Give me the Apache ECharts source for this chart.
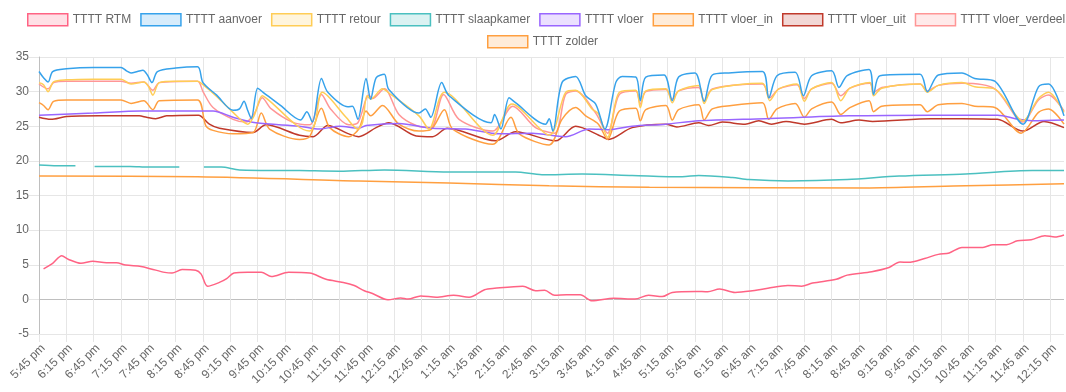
<!DOCTYPE html>
<html>
<head>
<meta charset="utf-8">
<script src="https://cdn.jsdelivr.net/npm/echarts@6/dist/echarts.min.js"></script>
<style>
html,body{margin:0;padding:0;background:#fff;}
#chart{width:1066px;height:392px;}
</style>
</head>
<body>
<div id="chart"></div>
<script>
// x values: minutes since 5:45 pm
const startMinuteOfDay = 17 * 60 + 45;
const seriesNames = ['TTTT RTM','TTTT aanvoer','TTTT retour','TTTT slaapkamer','TTTT vloer','TTTT vloer_in','TTTT vloer_uit','TTTT vloer_verdeel','TTTT zolder'];
const yTicks = [-5, 0, 5, 10, 15, 20, 25, 30, 35];

const rtm = [[5,4.4],[15,5.2],[25,6.3],[32,5.8],[46,5.2],[59,5.5],[74,5.3],[85,5.3],[95,4.95],[112,4.75],[123,4.4],[138,3.9],[146,3.8],[157,4.3],[172,4.2],[178,3.65],[185,1.9],[198,2.45],[206,3.0],[214,3.8],[229,3.9],[244,3.9],[255,3.3],[274,3.9],[297,3.8],[315,2.9],[334,2.45],[346,2.0],[357,1.25],[366,0.85],[383,-0.05],[397,0.2],[405,0.05],[419,0.5],[436,0.3],[455,0.6],[472,0.3],[489,1.4],[500,1.6],[531,1.9],[545,1.25],[555,1.3],[566,0.6],[579,0.65],[594,0.65],[607,-0.2],[631,0.15],[654,0.05],[669,0.6],[684,0.4],[695,1.0],[721,1.15],[734,1.1],[747,1.5],[764,1.0],[781,1.2],[800,1.6],[822,2.0],[837,1.9],[849,2.35],[875,2.9],[887,3.5],[914,4.0],[933,4.6],[945,5.4],[954,5.35],[972,5.9],[987,6.5],[999,6.7],[1013,7.5],[1036,7.5],[1047,7.9],[1062,7.9],[1074,8.45],[1089,8.6],[1104,9.2],[1115,9.0],[1125,9.3]];

const aanvoer = [[0,32.9],[5,32.0],[10,31.4],[15,32.9],[30,33.3],[60,33.5],[90,33.5],[96,33.0],[101,32.7],[108,32.9],[114,33.1],[119,32.4],[124,31.3],[130,32.9],[150,33.4],[174,33.6],[180,31.3],[195,29.5],[213,27.3],[220,27.5],[225,28.6],[229,27.3],[233,26.1],[240,30.5],[246,29.9],[265,28.0],[287,25.9],[294,27.1],[300,25.6],[310,31.9],[317,29.9],[339,27.8],[344,27.9],[350,26.0],[359,31.9],[364,28.9],[370,32.0],[379,32.5],[384,30.3],[417,26.9],[424,27.5],[430,26.3],[442,31.3],[450,29.4],[496,25.5],[500,26.7],[507,24.6],[516,29.1],[523,28.4],[556,25.3],[560,26.1],[564,24.3],[574,31.3],[589,32.2],[600,29.4],[611,28.2],[621,24.6],[633,31.3],[640,32.2],[655,32.1],[660,28.7],[666,32.1],[686,32.4],[695,28.7],[702,32.1],[720,32.7],[730,28.6],[739,32.4],[757,32.7],[794,32.9],[801,29.1],[810,32.3],[830,32.8],[839,29.4],[848,32.3],[870,33.0],[878,30.6],[887,32.3],[911,33.2],[916,29.6],[923,32.3],[967,32.5],[975,30.0],[987,32.4],[1013,32.7],[1027,31.9],[1049,31.5],[1080,25.3],[1097,30.7],[1108,31.1],[1125,26.5]];

const retour = [[0,31.3],[5,31.0],[10,30.0],[16,31.4],[30,31.7],[60,31.8],[90,31.8],[101,31.1],[115,31.4],[120,30.8],[125,29.5],[132,31.3],[150,31.5],[174,31.5],[180,31.0],[195,29.3],[213,27.0],[229,25.3],[236,26.5],[245,29.4],[250,29.0],[297,24.3],[303,25.5],[311,29.9],[337,26.3],[350,24.6],[355,25.5],[360,29.4],[364,28.9],[377,30.4],[384,29.8],[417,26.5],[428,24.6],[445,29.9],[498,23.7],[519,28.2],[560,23.7],[578,29.9],[589,30.2],[607,27.5],[614,26.8],[624,23.4],[637,29.9],[655,30.2],[660,27.7],[666,30.1],[688,30.4],[695,28.4],[702,30.1],[724,30.9],[730,28.3],[739,30.3],[794,31.2],[802,28.7],[812,30.4],[832,31.1],[840,28.6],[848,30.4],[870,31.3],[880,28.7],[890,30.5],[912,31.3],[916,29.4],[925,30.5],[967,31.1],[975,29.9],[987,30.9],[1013,31.3],[1027,30.7],[1049,30.4],[1080,25.8],[1097,29.0],[1108,29.9],[1125,27.0]];

const slaapkamer = [[0,19.4],[20,19.3],[40,19.3],[50,null],[61,19.2],[100,19.2],[120,19.1],[154,19.1],[167,null],[181,19.1],[200,19.1],[220,18.7],[286,18.6],[330,18.5],[379,18.7],[450,18.4],[523,18.4],[552,18.0],[596,18.1],[651,17.9],[706,17.7],[724,17.9],[761,17.6],[779,17.3],[822,17.1],[887,17.3],[944,17.8],[1017,18.1],[1090,18.6],[1125,18.6]];

const vloer = [[0,26.6],[60,26.9],[112,27.2],[175,27.2],[191,27.2],[213,26.3],[238,25.5],[286,25.0],[308,24.6],[330,25.0],[351,24.7],[359,25.1],[395,25.4],[432,24.7],[468,24.6],[505,23.9],[541,24.0],[578,23.5],[604,24.6],[625,24.5],[651,25.0],[688,25.3],[724,25.8],[797,26.1],[889,26.5],[980,26.6],[1052,26.6],[1075,26.0],[1090,25.8],[1125,25.9]];

const vloerIn = [[0,28.4],[5,28.0],[10,27.4],[16,28.6],[30,28.8],[90,28.8],[101,28.3],[115,28.7],[125,27.4],[132,28.7],[174,28.8],[183,25.1],[191,24.4],[213,23.9],[235,24.1],[244,26.9],[253,24.6],[286,23.1],[297,23.5],[310,27.6],[319,24.8],[340,23.5],[351,24.6],[359,27.2],[364,26.5],[377,28.0],[395,25.3],[417,24.3],[430,24.5],[445,27.4],[454,24.6],[498,22.4],[518,26.3],[527,23.9],[560,22.3],[574,26.0],[589,27.7],[600,26.5],[614,25.3],[624,23.1],[637,27.2],[655,27.6],[660,25.8],[666,27.4],[688,28.0],[695,25.9],[702,27.4],[724,28.1],[730,25.9],[739,27.5],[760,28.0],[794,28.4],[801,26.0],[810,27.5],[830,28.3],[840,26.3],[848,27.5],[870,28.5],[880,26.7],[890,27.7],[911,28.7],[916,27.1],[925,27.9],[967,28.1],[975,27.1],[987,28.1],[1013,28.3],[1027,27.9],[1049,27.7],[1078,24.0],[1097,27.0],[1108,27.5],[1125,25.3]];

const vloerUit = [[0,26.3],[13,26.0],[30,26.4],[66,26.5],[110,26.5],[118,26.3],[128,26.1],[140,26.5],[175,26.6],[187,25.3],[198,24.7],[235,24.1],[249,25.2],[286,23.7],[301,23.5],[317,25.1],[340,23.9],[351,23.5],[370,24.8],[384,25.5],[414,23.6],[432,23.5],[448,24.7],[501,22.9],[523,24.2],[567,22.9],[589,25.0],[618,23.5],[625,23.1],[651,24.8],[688,25.3],[700,24.9],[724,25.5],[735,25.1],[750,25.6],[775,25.3],[790,25.8],[804,25.3],[820,25.7],[840,25.3],[870,26.0],[880,25.5],[900,25.9],[915,25.7],[979,26.1],[1013,26.1],[1052,26.0],[1080,24.3],[1103,25.7],[1125,24.8]];

const vloerVerdeel = [[0,31.1],[10,30.4],[16,31.3],[30,31.5],[90,31.5],[101,31.2],[115,31.4],[125,30.2],[132,31.3],[174,31.5],[180,30.0],[191,27.7],[213,26.0],[227,25.6],[237,27.0],[245,29.1],[255,27.5],[278,25.6],[297,25.2],[310,29.6],[320,27.5],[340,25.2],[350,25.5],[362,29.5],[366,29.0],[379,30.4],[395,26.7],[414,25.1],[430,24.8],[444,29.6],[461,26.0],[498,24.3],[520,27.9],[545,24.8],[566,24.0],[578,29.6],[589,30.1],[611,26.9],[624,24.0],[637,29.6],[655,30.1],[660,28.2],[666,30.0],[688,30.3],[695,28.9],[702,30.1],[724,30.6],[730,28.6],[739,30.4],[794,31.1],[802,29.1],[812,30.4],[832,31.0],[840,29.0],[848,30.4],[870,31.2],[880,29.4],[890,30.5],[912,31.2],[916,29.9],[925,30.6],[967,31.1],[975,30.1],[987,30.9],[1013,31.2],[1049,30.4],[1080,25.6],[1097,28.8],[1108,29.5],[1125,27.2]];

const zolder = [[0,17.8],[174,17.7],[351,17.1],[450,16.8],[560,16.4],[670,16.2],[912,16.1],[1017,16.4],[1125,16.7]];

const seriesData = [rtm, aanvoer, retour, slaapkamer, vloer, vloerIn, vloerUit, vloerVerdeel, zolder];
const lineColors = ['rgb(255,99,132)','rgb(54,162,235)','rgb(255,205,86)','rgb(75,192,192)','rgb(153,102,255)','rgb(255,159,64)','rgb(192,57,43)','rgb(255,150,150)','rgb(255,159,64)'];
const fillColors = ['rgba(255,99,132,0.2)','rgba(54,162,235,0.2)','rgba(255,205,86,0.2)','rgba(75,192,192,0.2)','rgba(153,102,255,0.2)','rgba(255,159,64,0.2)','rgba(192,57,43,0.2)','rgba(255,150,150,0.2)','rgba(255,159,64,0.2)'];

const X_MAX = 1125;
function fmtTime(t) {
  const m = (startMinuteOfDay + t) % 1440;
  const h = Math.floor(m / 60);
  const mm = m % 60;
  const ap = h >= 12 ? 'pm' : 'am';
  const h12 = (h % 12) === 0 ? 12 : h % 12;
  return h12 + ':' + (mm < 10 ? '0' + mm : mm) + ' ' + ap;
}

const xSplitColors = [];
for (let i = 0; i <= 38; i++) xSplitColors.push(i === 0 ? '#bfbfbf' : (i === 38 ? 'rgba(0,0,0,0)' : '#e6e6e6'));
const ySplitColors = yTicks.map(v => v === 0 ? '#bfbfbf' : '#e6e6e6');

const legendItem = (i) => ({
  name: seriesNames[i],
  itemStyle: { color: fillColors[i], borderColor: lineColors[i], borderWidth: 1.5 }
});

const series = [];
for (let i = seriesData.length - 1; i >= 0; i--) {
  series.push({
    name: seriesNames[i],
    type: 'line',
    data: seriesData[i].map(p => [p[0], p[1] === null ? '-' : p[1]]),
    smooth: 0.3,
    showSymbol: false,
    connectNulls: false,
    color: lineColors[i],
    lineStyle: { color: lineColors[i], width: 1.5 },
    itemStyle: { color: lineColors[i] },
    emphasis: { disabled: true },
    z: 2
  });
}

const textStyle = { color: '#666', fontSize: 12, fontFamily: 'Liberation Sans, Arial, Helvetica, sans-serif' };

const chart = echarts.init(document.getElementById('chart'), null, { renderer: 'canvas' });
chart.setOption({
  animation: false,
  backgroundColor: '#fff',
  textStyle: textStyle,
  legend: [
    {
      data: [0,1,2,3,4,5,6,7].map(legendItem),
      left: 27, top: 13, padding: 0,
      itemWidth: 40, itemHeight: 12, itemGap: 9,
      icon: 'rect',
      textStyle: textStyle,
      selectedMode: false
    },
    {
      data: [legendItem(8)],
      left: 487, top: 35, padding: 0,
      itemWidth: 40, itemHeight: 12,
      icon: 'rect',
      textStyle: textStyle,
      selectedMode: false
    }
  ],
  grid: { left: 39, right: 2, top: 57, bottom: 58, containLabel: false },
  xAxis: {
    type: 'value',
    min: 0, max: X_MAX, interval: 30,
    axisLine: { show: false, onZero: false },
    axisTick: { show: true, length: 8, lineStyle: { color: '#e6e6e6' } },
    splitLine: { show: true, lineStyle: { color: xSplitColors, width: 1 } },
    axisLabel: {
      rotate: 45, margin: 8, color: '#666', fontSize: 12,
      fontFamily: textStyle.fontFamily,
      verticalAlign: 'top',
      showMaxLabel: false,
      formatter: (v) => (v % 30 === 0 && v < X_MAX) ? fmtTime(v) : ''
    }
  },
  yAxis: {
    type: 'value',
    min: -5, max: 35, interval: 5,
    axisLine: { show: true, lineStyle: { color: '#bfbfbf' } },
    axisTick: { show: true, length: 10, lineStyle: { color: '#e6e6e6' } },
    splitLine: { show: true, lineStyle: { color: ySplitColors, width: 1 } },
    axisLabel: { margin: 10, color: '#666', fontSize: 12, fontFamily: textStyle.fontFamily }
  },
  series: series
});
</script>
</body>
</html>
